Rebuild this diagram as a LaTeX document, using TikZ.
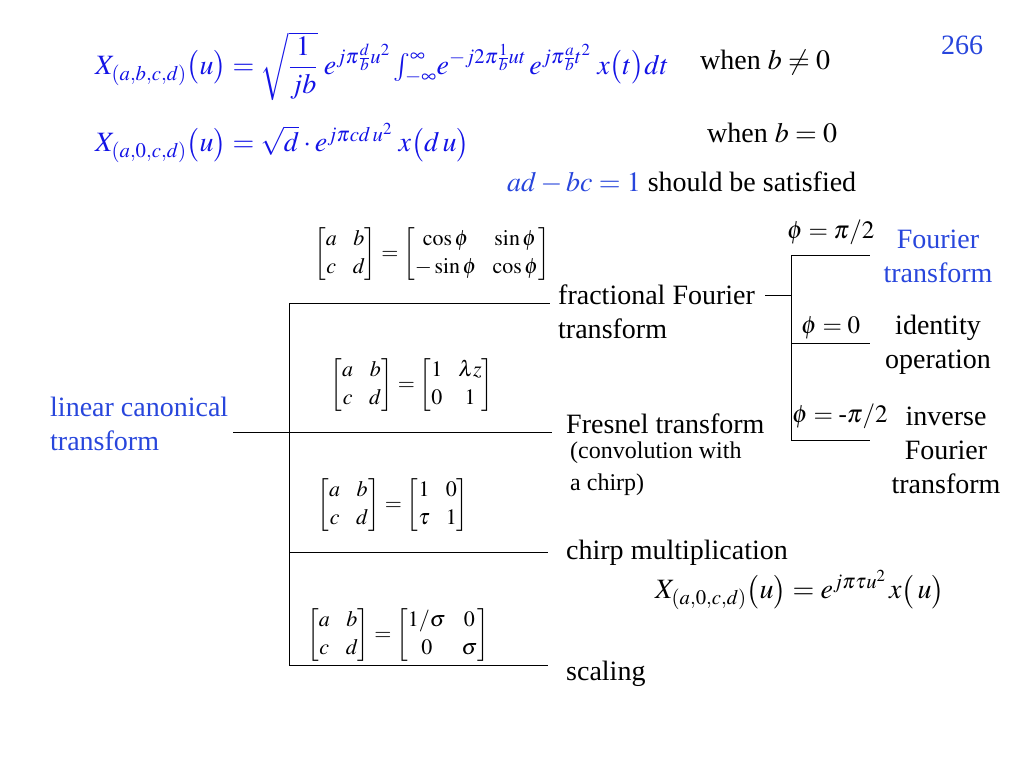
\documentclass[tikz,border=0pt]{standalone}
\usepackage{amsmath}
\usepackage{mathptmx}
\usepackage{fontspec}
\setmainfont{Liberation Serif}
\definecolor{fblue}{RGB}{20,20,230}
\definecolor{lblue}{RGB}{40,70,220}
\begin{document}
\begin{tikzpicture}[x=1pt,y=-1pt,
  txt/.style={inner sep=0pt,font=\fontsize{28}{34}\selectfont},
  phl/.style={inner sep=0pt,font=\fontsize{25}{30}\selectfont},
  mat/.style={inner sep=0pt,font=\fontsize{22}{28}\selectfont\setlength{\arraycolsep}{8pt}},
  fml/.style={inner sep=0pt,anchor=west,font=\fontsize{28}{34}\selectfont},
  ln/.style={line width=1pt}]
\useasboundingbox (0,0) rectangle (1024,768);
% formulas
\node[fml,text=fblue] (f1) at (95,66)
 {$X_{(a,b,c,d)}\bigl(u\bigr)=\sqrt{\dfrac{1}{jb}}\;e^{j\pi\frac{d}{b}u^2}\int_{-\infty}^{\infty}\!e^{-j2\pi\frac{1}{b}ut}\,e^{j\pi\frac{a}{b}t^2}\;x\bigl(t\bigr)dt$};
\node[fml,text=fblue] (f2) at (95,143)
 {$X_{(a,0,c,d)}\bigl(u\bigr)=\sqrt{d}\cdot e^{j\pi cd\,u^2}\;x\bigl(d\,u\bigr)$};
\node[txt,anchor=west] (w1) at (700,62) {when $b\neq 0$};
\node[txt,anchor=west] (w2) at (707,133) {when $b=0$};
\node[txt,anchor=west] (cond) at (507,183) {\textcolor{lblue}{$ad-bc=1$} should be satisfied};
\node[txt] (pg) at (962,45) {\textcolor{lblue}{266}};
% left tree
\node[txt,anchor=west,text=lblue,align=left] (lct) at (50,424) {linear canonical\\transform};
\coordinate (root) at (233,432);
\coordinate (jr) at (289,432);
\coordinate (t1) at (289,303);
\coordinate (t4) at (289,665);
\coordinate (e1) at (550,303);
\coordinate (e2) at (552,432);
\coordinate (e3) at (548,552);
\coordinate (e4) at (548,665);
\draw[ln] (root) -- (jr);
\draw[ln] (t1) -- (t4);
\draw[ln] (t1) -- (e1);
\draw[ln] (jr) -- (e2);
\draw[ln] (289,552) -- (e3);
\draw[ln] (t4) -- (e4);
\node[txt,anchor=west,align=left] (frft) at (558,312) {fractional Fourier\\transform};
\node[txt,anchor=west] (fres) at (566,424) {Fresnel transform};
\node[inner sep=0pt,anchor=west,align=left,font=\fontsize{24}{32}\selectfont] (conv) at (570,469) {(convolution with\\a chirp)};
\node[txt,anchor=west] (chirp) at (566,553) {chirp multiplication};
\node[fml] (cf) at (655,590) {$X_{(a,0,c,d)}\bigl(u\bigr)=e^{j\pi\tau u^2}\,x\bigl(\,u\bigr)$};
\node[txt,anchor=west] (scal) at (566,674) {scaling};
% matrices
\node[mat] (m1) at (432,254) {$\begin{bmatrix}a&b\\c&d\end{bmatrix}=\begin{bmatrix}\cos\phi&\sin\phi\\-\sin\phi&\cos\phi\end{bmatrix}$};
\node[mat] (m2) at (412,385) {$\begin{bmatrix}a&b\\c&d\end{bmatrix}=\begin{bmatrix}1&\lambda z\\0&1\end{bmatrix}$};
\node[mat] (m3) at (393,505) {$\begin{bmatrix}a&b\\c&d\end{bmatrix}=\begin{bmatrix}1&0\\\tau&1\end{bmatrix}$};
\node[mat] (m4) at (398,635) {$\begin{bmatrix}a&b\\c&d\end{bmatrix}=\begin{bmatrix}1/\sigma&0\\0&\sigma\end{bmatrix}$};
% right tree
\coordinate (rj) at (791,295);
\coordinate (r1) at (791,255);
\coordinate (r3) at (791,440);
\draw[ln] (765,295) -- (rj);
\draw[ln] (r1) -- (r3);
\draw[ln] (r1) -- (870,255);
\draw[ln] (791,343) -- (870,343);
\draw[ln] (r3) -- (870,440);
\node[phl,anchor=west] (p1) at (787,232) {$\phi=\pi/2$};
\node[phl,anchor=west] (p2) at (801,328) {$\phi=0$};
\node[phl,anchor=west] (p3) at (792,416) {$\phi=\text{-}\pi/2$};
\node[txt,align=center,text=lblue] (ft) at (938,256) {Fourier\\transform};
\node[txt,align=center] (id) at (938,345) {identity\\operation};
\node[txt,align=center] (ift) at (946,450) {inverse\\Fourier\\transform};
\end{tikzpicture}
\end{document}
